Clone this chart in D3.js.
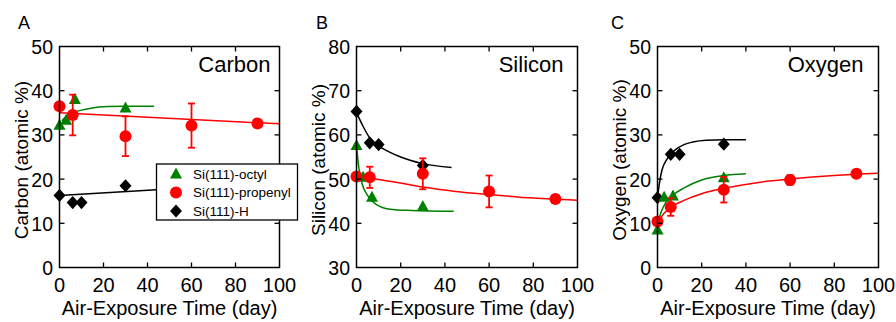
<!DOCTYPE html>
<html>
<head>
<meta charset="utf-8">
<script src="https://cdn.jsdelivr.net/npm/d3@7"></script>
<style>
body { margin: 0; background: #fff; }
text { font-family: "Liberation Sans", Arial, sans-serif; fill: #000; }
</style>
</head>
<body>
<svg width="896" height="322"></svg>
<script>
// x positions (days) of each sample series
var dayTicks = [0, 20, 40, 60, 80, 100],
    octylDays = [0, 3, 7, 30],
    propenylDays = [0, 6, 30, 60, 90],
    hDays = [0, 6, 10, 30];

var seriesNames = ["Si(111)-octyl", "Si(111)-propenyl", "Si(111)-H"];

// A - carbon
var carbonOctyl = [32.2, 33.3, 38.0, 36.1],
    carbonPropenyl = [36.5, 34.5, 29.7, 32.1, 32.6],
    carbonPropenylErr = [0, 4.6, 4.5, 5.0, 0],
    carbonH = [16.3, 14.7, 14.7, 18.5];
var carbonOctylFit = [[1, 33.2], [3, 34.1], [6, 35.0], [10, 35.6], [15, 36.1], [22, 36.4], [30, 36.5], [43, 36.5]],
    carbonPropenylFit = [[0, 35.0], [100, 32.5]],
    carbonHFit = [[0, 16.3], [44, 17.6]];

// B - silicon
var siliconOctyl = [57.6, 50.4, 45.9, 43.8],
    siliconPropenyl = [50.6, 50.4, 51.2, 47.2, 45.5],
    siliconPropenylErr = [0, 2.4, 3.5, 3.6, 0],
    siliconH = [65.3, 58.2, 57.8, 53.1];
var siliconOctylFit = [[0, 57.6], [1, 52.8], [2.5, 49.0], [5, 46.3], [9, 44.2], [15, 43.2], [25, 42.9], [44, 42.7]],
    siliconPropenylFit = [[0, 50.9], [8, 50.1], [20, 49.1], [30, 48.2], [45, 47.2], [60, 46.5], [80, 45.7], [100, 45.2]],
    siliconHFit = [[0, 65.1], [3, 61.9], [7, 58.6], [12, 56.9], [20, 55.0], [30, 53.5], [43, 52.6]];

// C - oxygen
var oxygenOctyl = [8.5, 15.9, 16.2, 20.3],
    oxygenPropenyl = [10.4, 13.7, 17.6, 19.8, 21.2],
    oxygenPropenylErr = [0, 2.0, 2.9, 1.1, 0],
    oxygenH = [15.8, 25.6, 25.6, 27.9];
var oxygenOctylFit = [[0, 10.0], [2, 13.0], [4, 14.9], [7, 16.4], [12, 18.0], [20, 19.8], [30, 20.8], [40, 21.2]],
    oxygenPropenylFit = [[0, 10.2], [3, 12.3], [6, 13.6], [12, 15.2], [20, 16.7], [30, 17.9], [45, 19.2], [60, 20.0], [80, 20.8], [100, 21.3]],
    oxygenHFit = [[0, 15.8], [1, 19.5], [2, 22.0], [4, 24.3], [6, 25.6], [8, 26.6], [12, 27.8], [16, 28.4], [22, 28.8], [30, 28.9], [40, 28.9]];

var green = "#008000", red = "#ff0000";

var panels = [
  {letter: "A", title: "Carbon", yLabel: "Carbon (atomic %)", left: 59.5, right: 279.5, titlePad: 9, letterX: 18,
   yDomain: [0, 50], yTicks: [0, 10, 20, 30, 40, 50],
   octyl: carbonOctyl, propenyl: carbonPropenyl, err: carbonPropenylErr, h: carbonH,
   octylFit: carbonOctylFit, propenylFit: carbonPropenylFit, hFit: carbonHFit},
  {letter: "B", title: "Silicon", yLabel: "Silicon (atomic %)", left: 356.5, right: 577.5, titlePad: 14, letterX: 316,
   yDomain: [30, 80], yTicks: [30, 40, 50, 60, 70, 80],
   octyl: siliconOctyl, propenyl: siliconPropenyl, err: siliconPropenylErr, h: siliconH,
   octylFit: siliconOctylFit, propenylFit: siliconPropenylFit, hFit: siliconHFit},
  {letter: "C", title: "Oxygen", yLabel: "Oxygen (atomic %)", left: 657.5, right: 878.5, titlePad: 15, letterX: 611,
   yDomain: [0, 50], yTicks: [0, 10, 20, 30, 40, 50],
   octyl: oxygenOctyl, propenyl: oxygenPropenyl, err: oxygenPropenylErr, h: oxygenH,
   octylFit: oxygenOctylFit, propenylFit: oxygenPropenylFit, hFit: oxygenHFit}
];

var plotTop = 46.5, plotBottom = 267.5, tickLen = 5;

var svg = d3.select("svg");

var triangle = "M0,-6.5L6,4.5L-6,4.5Z",
    diamond = "M0,-6.6L6,0L0,6.6L-6,0Z",
    dotR = 6;

function zip(days, vals) {
  return days.map(function(d, i) { return [d, vals[i]]; });
}

panels.forEach(function(p) {
  var x = d3.scaleLinear().domain([0, 100]).range([p.left, p.right]),
      y = d3.scaleLinear().domain(p.yDomain).range([plotBottom, plotTop]);

  var g = svg.append("g");

  var line = d3.line()
      .x(function(d) { return x(d[0]); })
      .y(function(d) { return y(d[1]); })
      .curve(d3.curveMonotoneX);

  // fitted curves
  [[p.hFit, "#000"], [p.octylFit, green], [p.propenylFit, red]].forEach(function(f) {
    g.append("path")
        .attr("d", line(f[0]))
        .attr("fill", "none")
        .attr("stroke", f[1])
        .attr("stroke-width", 1.5);
  });

  // H diamonds
  g.selectAll(".h").data(zip(hDays, p.h)).enter().append("path")
      .attr("d", diamond)
      .attr("transform", function(d) { return "translate(" + x(d[0]) + "," + y(d[1]) + ")"; })
      .attr("fill", "#000");

  // octyl triangles
  g.selectAll(".oct").data(zip(octylDays, p.octyl)).enter().append("path")
      .attr("d", triangle)
      .attr("transform", function(d) { return "translate(" + x(d[0]) + "," + y(d[1]) + ")"; })
      .attr("fill", green);

  // propenyl error bars + circles
  var prop = propenylDays.map(function(d, i) { return {day: d, v: p.propenyl[i], e: p.err[i]}; });
  var eb = g.selectAll(".eb").data(prop.filter(function(d) { return d.e > 0; })).enter().append("g")
      .attr("stroke", red)
      .attr("stroke-width", 1.8);
  eb.append("line")
      .attr("x1", function(d) { return x(d.day); }).attr("x2", function(d) { return x(d.day); })
      .attr("y1", function(d) { return y(d.v - d.e); }).attr("y2", function(d) { return y(d.v + d.e); });
  eb.append("line")
      .attr("x1", function(d) { return x(d.day) - 3.5; }).attr("x2", function(d) { return x(d.day) + 3.5; })
      .attr("y1", function(d) { return y(d.v - d.e); }).attr("y2", function(d) { return y(d.v - d.e); });
  eb.append("line")
      .attr("x1", function(d) { return x(d.day) - 3.5; }).attr("x2", function(d) { return x(d.day) + 3.5; })
      .attr("y1", function(d) { return y(d.v + d.e); }).attr("y2", function(d) { return y(d.v + d.e); });
  g.selectAll(".pc").data(prop).enter().append("circle")
      .attr("cx", function(d) { return x(d.day); })
      .attr("cy", function(d) { return y(d.v); })
      .attr("r", dotR)
      .attr("fill", red);

  // frame + inward ticks on all four sides
  g.append("rect")
      .attr("x", p.left).attr("y", plotTop)
      .attr("width", p.right - p.left).attr("height", plotBottom - plotTop)
      .attr("fill", "none").attr("stroke", "#000").attr("stroke-width", 1.5);

  var tk = g.append("g").attr("stroke", "#000").attr("stroke-width", 1.3);
  dayTicks.slice(1, -1).forEach(function(t) {
    tk.append("line").attr("x1", x(t)).attr("x2", x(t)).attr("y1", plotBottom).attr("y2", plotBottom - tickLen);
    tk.append("line").attr("x1", x(t)).attr("x2", x(t)).attr("y1", plotTop).attr("y2", plotTop + tickLen);
  });
  p.yTicks.slice(1, -1).forEach(function(t) {
    tk.append("line").attr("x1", p.left).attr("x2", p.left + tickLen).attr("y1", y(t)).attr("y2", y(t));
    tk.append("line").attr("x1", p.right).attr("x2", p.right - tickLen).attr("y1", y(t)).attr("y2", y(t));
  });

  // tick labels
  g.selectAll(".xl").data(dayTicks).enter().append("text")
      .attr("x", function(d) { return x(d); })
      .attr("y", 291.5)
      .attr("text-anchor", "middle")
      .style("font-size", "20px")
      .text(function(d) { return d; });
  g.selectAll(".yl").data(p.yTicks).enter().append("text")
      .attr("x", p.left - 6.5)
      .attr("y", function(d) { return y(d); })
      .attr("dy", "0.38em")
      .attr("text-anchor", "end")
      .style("font-size", "19.5px")
      .text(function(d) { return d; });

  // axis titles
  g.append("text")
      .attr("x", (p.left + p.right) / 2)
      .attr("y", 315)
      .attr("text-anchor", "middle")
      .style("font-size", "20px")
      .text("Air-Exposure Time (day)");
  g.append("text")
      .attr("transform", "translate(" + (p.left - 32) + "," + ((plotTop + plotBottom) / 2 + 3) + ")rotate(-90)")
      .attr("text-anchor", "middle")
      .style("font-size", "19px")
      .text(p.yLabel);

  // panel letter and element title
  g.append("text")
      .attr("x", p.letterX).attr("y", 29)
      .style("font-size", "18px")
      .text(p.letter);
  g.append("text")
      .attr("x", p.right - p.titlePad).attr("y", 72)
      .attr("text-anchor", "end")
      .style("font-size", "22px")
      .text(p.title);
});

// legend sits on top of panel A (covers the right frame there)
var lg = svg.append("g");
lg.append("rect")
    .attr("x", 156.5).attr("y", 164)
    .attr("width", 141).attr("height", 56)
    .attr("fill", "#fff").attr("stroke", "#000").attr("stroke-width", 1.3);
var legendRows = [[triangle, green], [null, red], [diamond, "#000"]];
legendRows.forEach(function(r, i) {
  var cy = 174 + i * 18.5;
  if (r[0]) {
    lg.append("path").attr("d", r[0]).attr("transform", "translate(176," + cy + ")").attr("fill", r[1]);
  } else {
    lg.append("circle").attr("cx", 176).attr("cy", cy).attr("r", dotR).attr("fill", r[1]);
  }
  lg.append("text")
      .attr("x", 193).attr("y", cy)
      .attr("dy", "0.36em")
      .style("font-size", "13.5px")
      .text(seriesNames[i]);
});
</script>
</body>
</html>
